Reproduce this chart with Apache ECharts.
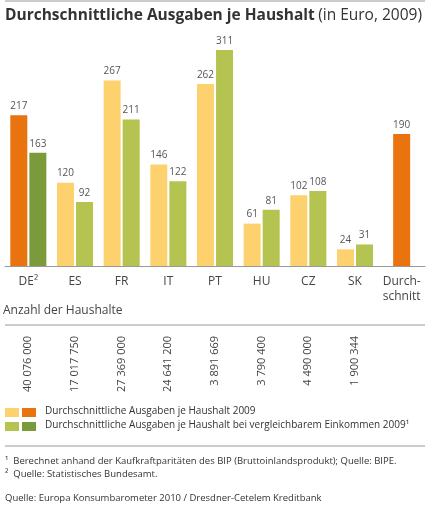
<!DOCTYPE html><html><head><meta charset="utf-8"><script src="https://cdn.jsdelivr.net/npm/echarts@6/dist/echarts.min.js"></script>
<style>body{margin:0}#c{width:443px;height:508px}</style></head><body><div id="c"></div><script>
var categories=['DE²','ES','FR','IT','PT','HU','CZ','SK','Durch-\nschnitt'];
var spend2009=[217,120,267,146,262,61,102,24,null];
var spendComparable=[163,92,211,122,311,81,108,31,null];
var average=[null,null,null,null,null,null,null,null,190];
var households=['40 076 000','17 017 750','27 369 000','24 641 200','3 891 669','3 790 400','4 490 000','1 900 344',''];
var F='"Open Sans", "Noto Sans", sans-serif';
var c=echarts.init(document.getElementById('c'));
var lbl={show:true,position:'top',color:'#555',fontSize:10,fontFamily:F,distance:4};
c.setOption({animation:false,
grid:[{left:5,right:18,top:50,bottom:242},{left:5,right:18,top:320,height:10}],
xAxis:[{type:'category',data:categories,gridIndex:0,axisLine:{lineStyle:{color:'#999'}},axisTick:{inside:true,length:10,lineStyle:{color:'#999'}},axisLabel:{interval:0,color:'#444',fontSize:12,fontFamily:F,margin:8,lineHeight:15}},
{type:'category',data:categories,gridIndex:0,show:false},
{type:'category',data:households,gridIndex:1,axisLine:{show:false},axisTick:{show:false},axisLabel:{interval:0,rotate:90,color:'#444',fontSize:11,fontFamily:F,margin:6}}],
yAxis:[{type:'value',min:0,max:311,gridIndex:0,show:false},{type:'value',gridIndex:1,show:false}],
series:[
{type:'bar',xAxisIndex:0,data:spend2009.map(function(v,i){return {value:v,itemStyle:{color:i==0?'#e8730f':'#fdd26e'}}}),barWidth:17,barGap:'12%',label:lbl},
{type:'bar',xAxisIndex:0,data:spendComparable.map(function(v,i){return {value:v,itemStyle:{color:i==0?'#7a9a3c':'#b5c450'}}}),barWidth:17,label:lbl},
{type:'bar',xAxisIndex:1,data:average,barWidth:17,itemStyle:{color:'#e8730f'},label:lbl}],
graphic:[
{type:'line',shape:{x1:5,y1:1,x2:425,y2:1},style:{stroke:'#999',lineWidth:1}},
{type:'text',left:5,top:8,style:{text:'{b|Durchschnittliche Ausgaben je Haushalt} {n|(in Euro, 2009)}',rich:{b:{fontSize:15.5,fontWeight:'bold',fill:'#333',fontFamily:F},n:{fontSize:15.5,fill:'#333',fontFamily:F}}}},
{type:'text',left:3,top:305,style:{text:'Anzahl der Haushalte',fontSize:12,fill:'#444',fontFamily:F}},
{type:'line',shape:{x1:5,y1:325,x2:425,y2:325},style:{stroke:'#999',lineWidth:1}},
{type:'rect',shape:{x:5,y:408,width:14,height:9},style:{fill:'#fdd26e'}},
{type:'rect',shape:{x:22,y:408,width:14,height:9},style:{fill:'#e8730f'}},
{type:'rect',shape:{x:5,y:422,width:14,height:9},style:{fill:'#b5c450'}},
{type:'rect',shape:{x:22,y:422,width:14,height:9},style:{fill:'#7a9a3c'}},
{type:'text',left:45,top:406,style:{text:'Durchschnittliche Ausgaben je Haushalt 2009',fontSize:10,fill:'#333',fontFamily:F}},
{type:'text',left:45,top:420,style:{text:'Durchschnittliche Ausgaben je Haushalt bei vergleichbarem Einkommen 2009¹',fontSize:10,fill:'#333',fontFamily:F}},
{type:'line',shape:{x1:5,y1:446,x2:425,y2:446},style:{stroke:'#999',lineWidth:1}},
{type:'text',left:5,top:455,style:{text:'¹  Berechnet anhand der Kaufkraftparitäten des BIP (Bruttoinlandsprodukt); Quelle: BIPE.\n²  Quelle: Statistisches Bundesamt.',fontSize:9.5,lineHeight:13,fill:'#333',fontFamily:F}},
{type:'text',left:5,top:493,style:{text:'Quelle: Europa Konsumbarometer 2010 / Dresdner-Cetelem Kreditbank',fontSize:9.5,fill:'#333',fontFamily:F}}
]});
</script></body></html>
